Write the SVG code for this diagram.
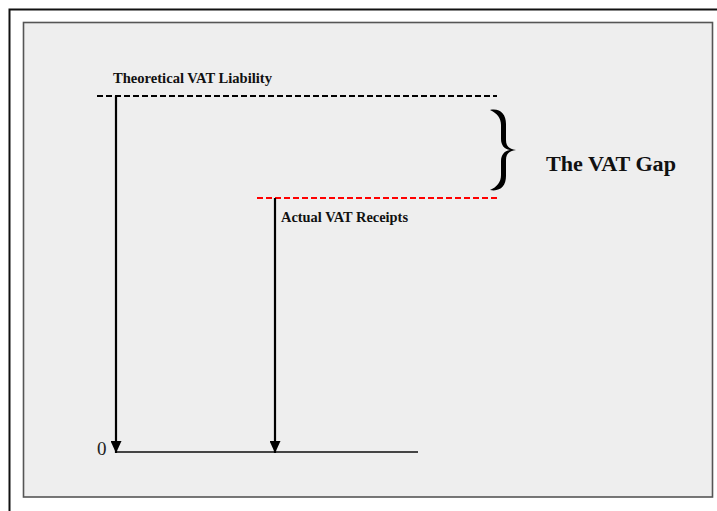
<svg xmlns="http://www.w3.org/2000/svg" width="717" height="511" viewBox="0 0 717 511">
<defs>
<style>
.lbl{font-family:"Liberation Serif","Times New Roman",serif;font-weight:bold;fill:#111}
.arr{stroke:#000;stroke-width:2.2;fill:none}
</style>
<marker id="ah" markerWidth="12" markerHeight="11" refX="12" refY="5.5" orient="auto" markerUnits="userSpaceOnUse" viewBox="0 0 12 11">
<path d="M0,0 L12,5.5 L0,11 Z" fill="#000"/>
</marker>
</defs>
<rect width="717" height="511" fill="#fff"/>
<g id="frame">
<path d="M9.5,511 V9.5 H717" fill="none" stroke="#111" stroke-width="2"/>
<rect x="23.5" y="22.5" width="689" height="474.5" fill="#eeeeee" stroke="#555" stroke-width="1.6"/>
</g>
<g id="connectors">
<line x1="97" y1="96" x2="497" y2="96" stroke="#000" stroke-width="2" stroke-dasharray="6,3"/>
<line x1="257" y1="198" x2="497" y2="198" stroke="#ff0000" stroke-width="2" stroke-dasharray="6,3"/>
<line x1="116" y1="452" x2="418" y2="452" stroke="#444" stroke-width="2"/>
<line class="arr" x1="116" y1="96" x2="116" y2="453" marker-end="url(#ah)"/>
<line class="arr" x1="275" y1="198" x2="275" y2="453" marker-end="url(#ah)"/>
</g>
<g id="theoretical">
<text class="lbl" x="113" y="83" font-size="14" textLength="159" lengthAdjust="spacingAndGlyphs">Theoretical VAT Liability</text>
</g>
<g id="actual">
<text class="lbl" x="281" y="222" font-size="14" textLength="127" lengthAdjust="spacingAndGlyphs">Actual VAT Receipts</text>
</g>
<g id="zero">
<text x="97" y="455" font-family="'Liberation Serif','Times New Roman',serif" font-size="19" fill="#222">0</text>
</g>
<g id="gap">
<path d="M490,110 C500,108 506,114 506,124 L506,140 C506,146 509,149 516,150 C509,151 506,154 506,160 L506,176 C506,186 500,192 490,190 C497,187 501,182 501,175 L501,161 C501,155 504,151 510,150 C504,149 501,145 501,139 L501,125 C501,118 497,113 490,110 Z" fill="#000"/>
<text class="lbl" x="546" y="171" font-size="20" textLength="130" lengthAdjust="spacingAndGlyphs">The VAT Gap</text>
</g>
</svg>
